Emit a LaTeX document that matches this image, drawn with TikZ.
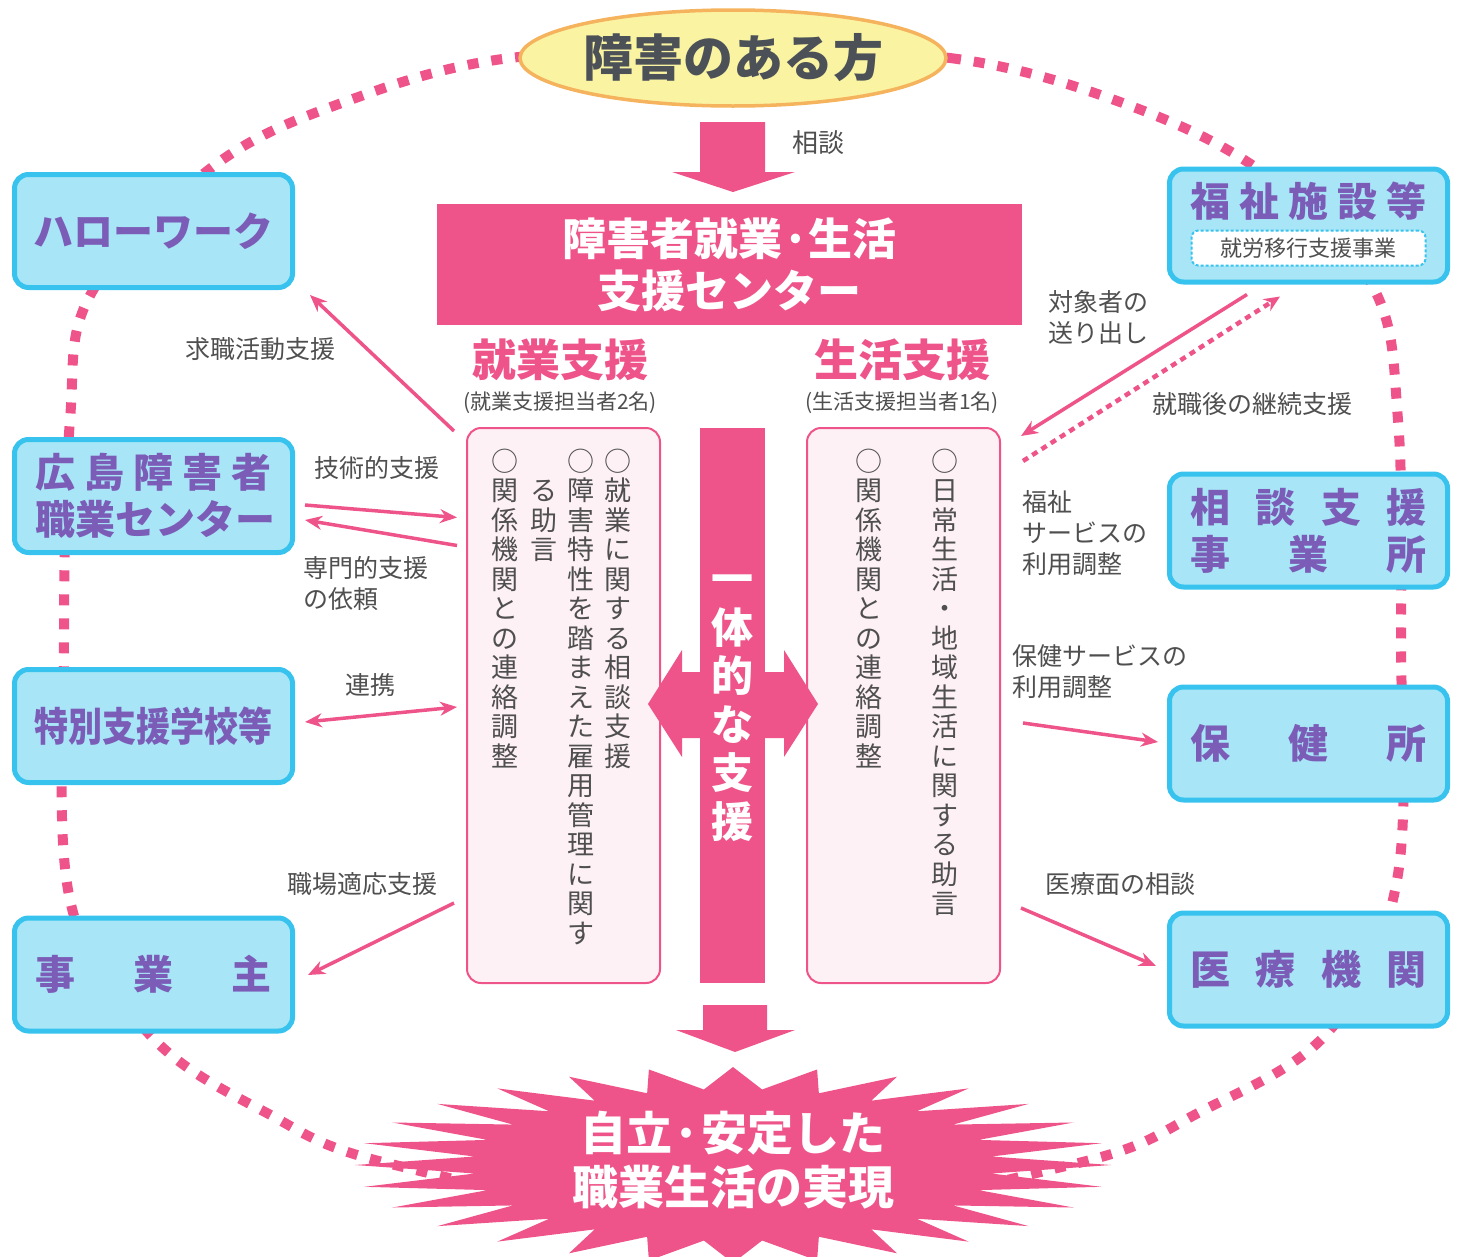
\documentclass[tikz,border=0pt]{standalone}
\usepackage{fontspec}
\usepackage{graphicx}
\setmainfont{Noto Sans CJK JP}
\usetikzlibrary{arrows.meta,calc,shapes.geometric}
\definecolor{pk}{HTML}{EE5489}
\definecolor{pkfill}{HTML}{FDF1F6}
\definecolor{cyf}{HTML}{A8E6F7}
\definecolor{cyb}{HTML}{38C3EE}
\definecolor{pu}{HTML}{7B5DB8}
\definecolor{gy}{HTML}{4F4F4F}
\definecolor{ylf}{HTML}{FAF4A2}
\definecolor{orb}{HTML}{F4B35C}
\definecolor{dkg}{HTML}{4B5157}
\newdimen\vpitch
\ExplSyntaxOn
\NewDocumentCommand\vcol{m}{\vtop{\offinterlineskip\tl_map_inline:nn{#1}{\hbox_to_wd:nn{1em}{\hss\vrule~height~0.82\vpitch~depth~0.18\vpitch~width~0pt\relax##1\hss}}}}
\ExplSyntaxOff
\newcommand\spread[2]{\hbox to #1{#2}}
\begin{document}
\begin{tikzpicture}[x=1pt,y=-1pt,
  cbox/.style={draw=cyb, line width=5pt, fill=cyf, rounded corners=14pt, minimum width=278pt, minimum height=113pt, inner sep=0pt},
  ctext/.style={text=pu, font=\bfseries\fontsize{40}{47}\selectfont, align=center, inner sep=0pt},
  lbl/.style={text=gy, font=\fontsize{25}{31}\selectfont, inner sep=0pt},
  lbll/.style={lbl, align=left},
  arr/.style={draw=pk, line width=3.5pt, -{Stealth[length=17pt,width=14pt]}},
  darr/.style={draw=pk, line width=3.5pt, {Stealth[length=17pt,width=14pt]}-{Stealth[length=17pt,width=14pt]}},
  dotarr/.style={draw=pk, line width=4.5pt, dash pattern=on 6pt off 5pt, -{Stealth[length=16pt,width=14pt]}},
  loopd/.style={draw=pk, line width=10pt, dash pattern=on 11pt off 13pt},
  panel/.style={draw=pk, line width=2pt, fill=pkfill, rounded corners=14pt, minimum width=193pt, minimum height=555pt, inner sep=0pt},
  vtxt/.style={text=gy, font=\fontsize{27}{29}\selectfont, inner sep=0pt, anchor=north},
]
\useasboundingbox (0,0) rectangle (1462,1256);
% big dashed loop
\draw[loopd] plot[smooth cycle, tension=0.6] coordinates {
 (731,52) (950,58) (1120,102) (1262,172) (1372,285) (1398,420) (1401,640) (1397,880)
 (1330,1030) (1200,1112) (1070,1165) (731,1222) (395,1165) (265,1112) (150,1035)
 (70,900) (64,640) (70,420) (92,292) (215,165) (350,100) (510,58)};

% top ellipse
\node[ellipse, draw=orb, line width=3.5pt, fill=ylf, minimum width=426pt, minimum height=96pt, inner sep=0pt,
  text=dkg, font=\bfseries\fontsize{50}{56}\selectfont] (person) at (733,58) {障害のある方};

% big down arrow
\fill[pk] (700,122) -- (765,122) -- (765,172) -- (795,172) -- (733,192) -- (672,172) -- (700,172) -- cycle;
\node[lbl, font=\fontsize{26}{31}\selectfont] (soudanl) at (818,143) {相談};

% center box
\node[fill=pk, minimum width=585pt, minimum height=121pt, inner sep=0pt, text=white,
  font=\bfseries\fontsize{44}{52}\selectfont, align=center] (center) at (729.5,264.5) {障害者就業·生活\\支援センター};

% headers
\node[text=pk, font=\bfseries\fontsize{44}{50}\selectfont, inner sep=0pt] (h1) at (560,360) {就業支援};
\node[text=gy, font=\fontsize{21}{25}\selectfont, inner sep=0pt] (h1s) at (560,403) {(就業支援担当者2名)};
\node[text=pk, font=\bfseries\fontsize{44}{50}\selectfont, inner sep=0pt] (h2) at (902,360) {生活支援};
\node[text=gy, font=\fontsize{21}{25}\selectfont, inner sep=0pt] (h2s) at (902,403) {(生活支援担当者1名)};

% panels
\node[panel] (lpanel) at (563.5,705.5) {};
\node[panel] (rpanel) at (903.5,705.5) {};

% cross arrow and bar
\fill[pk] (648,704) -- (682,650) -- (682,672) -- (784,672) -- (784,650) -- (818,704) -- (784,757) -- (784,738) -- (682,738) -- (682,757) -- cycle;
\node[fill=pk, minimum width=65pt, minimum height=555pt, inner sep=0pt] (bar) at (732.5,705.5) {};
\node[text=white, font=\bfseries\fontsize{42}{48}\selectfont, inner sep=0pt, anchor=north] (bart) at (732.5,555) {\vpitch=48.5pt\vcol{一体的な支援}};

% vertical texts
\node[vtxt] (l1) at (618,447) {\vpitch=29.5pt\vcol{○就業に関する相談支援}};
\node[vtxt] (l2) at (581,447) {\vpitch=29.5pt\vcol{○障害特性を踏まえた雇用管理に関す}};
\node[vtxt] (l3) at (544,476.5) {\vpitch=29.5pt\vcol{る助言}};
\node[vtxt] (l4) at (505,447) {\vpitch=29.5pt\vcol{○関係機関との連絡調整}};
\node[vtxt] (r1) at (945,447) {\vpitch=29.5pt\vcol{○日常生活・地域生活に関する助言}};
\node[vtxt] (r2) at (869,447) {\vpitch=29.5pt\vcol{○関係機関との連絡調整}};

% bottom arrow
\fill[pk] (703,1005) -- (767,1005) -- (767,1030) -- (795,1030) -- (735,1052) -- (676,1030) -- (703,1030) -- cycle;

% starburst
\fill[pk] (733+378,1165)
  \foreach \k in {1,...,55} {
    \pgfextra{\pgfmathsetmacro\rx{378-118*mod(\k,2)}\pgfmathsetmacro\ry{98-22*mod(\k,2)}\pgfmathsetmacro\ang{\k*45/7}}
    -- ({733+\rx*cos(\ang)},{1165+\ry*sin(\ang)})
  } -- cycle;
\node[text=white, font=\bfseries\fontsize{46}{54}\selectfont, align=center, inner sep=0pt] (goal) at (733,1160) {自立·安定した\\職業生活の実現};

% left boxes
\node[cbox] (hw) at (153.5,231) {};
\node[ctext] (hwt) at (hw.center) {ハローワーク};
\node[cbox] (hiro) at (153.5,496) {};
\node[ctext] (hirot) at (hiro.center) {\spread{236pt}{広\hfil 島\hfil 障\hfil 害\hfil 者}\\\spread{236pt}{職\hfil 業\hfil セ\hfil ン\hfil タ\hfil ー}};
\node[cbox] (toku) at (153.5,726) {};
\node[ctext] (tokut) at (toku.center) {\scalebox{0.85}[1]{特別支援学校等}};
\node[cbox] (jig) at (153.5,974.5) {};
\node[ctext] (jigt) at (jig.center) {\spread{236pt}{事\hfil 業\hfil 主}};

% right boxes
\node[cbox] (fuku) at (1308.5,225.5) {};
\node[ctext] (fukut) at (1308.5,201) {\spread{236pt}{福\hfil 祉\hfil 施\hfil 設\hfil 等}};
\node[draw=cyb, line width=2pt, dash pattern=on 3pt off 2pt, fill=white, rounded corners=7pt, minimum width=234pt, minimum height=35pt, inner sep=0pt,
  text=gy, font=\fontsize{22}{26}\selectfont] (fukus) at (1308.5,248) {就労移行支援事業};
\node[cbox] (soudan) at (1308.5,530.5) {};
\node[ctext] (soudant) at (soudan.center) {\spread{236pt}{相\hfil 談\hfil 支\hfil 援}\\\spread{236pt}{事\hfil 業\hfil 所}};
\node[cbox] (hoken) at (1308.5,743.5) {};
\node[ctext] (hokent) at (hoken.center) {\spread{236pt}{保\hfil 健\hfil 所}};
\node[cbox] (iryo) at (1308.5,969.5) {};
\node[ctext] (iryot) at (iryo.center) {\spread{236pt}{医\hfil 療\hfil 機\hfil 関}};

% left connectors
\draw[arr] ($(lpanel.north west)+(-12,4)$) -- ($(hw.south east)+(15,5)$);
\node[lbl] (l_kyu) at (260,349) {求職活動支援};
\draw[arr] ($(hiro.east)+(10,9)$) -- ($(lpanel.west)+(-9,-188)$);
\node[lbl] (l_gij) at (377,468) {技術的支援};
\draw[arr] ($(lpanel.west)+(-9,-160)$) -- ($(hiro.east)+(10,24)$);
\node[lbll, anchor=north west] (l_sen) at (303,556) {専門的支援\\の依頼};
\draw[darr] ($(toku.east)+(10,-4)$) -- ($(lpanel.west)+(-9,1.5)$);
\node[lbl] (l_ren) at (370,685) {連携};
\draw[arr] ($(lpanel.west)+(-12,197.5)$) -- ($(jig.east)+(13,0.5)$);
\node[lbl] (l_sho) at (362,884) {職場適応支援};

% right connectors
\draw[arr] ($(fuku.south west)+(80,10)$) -- ($(rpanel.north east)+(20,9)$);
\node[lbll, anchor=north west] (r_oku) at (1048,290) {対象者の\\送り出し};
\draw[dotarr] ($(rpanel.north east)+(22,34)$) -- ($(fuku.south west)+(113,12)$);
\node[lbl] (r_kei) at (1252,404) {就職後の継続支援};
\node[lbll, anchor=north west] (r_fuk) at (1022,490) {福祉\\サービスの\\利用調整};
\node[lbll, anchor=north west] (r_hok) at (1012,644) {保健サービスの\\利用調整};
\draw[arr] ($(rpanel.east)+(22,17.5)$) -- ($(hoken.west)+(-9,-1.5)$);
\node[lbl] (r_iry) at (1120,884) {医療面の相談};
\draw[arr] ($(rpanel.east)+(20,202.5)$) -- ($(iryo.west)+(-11,-3.5)$);
\end{tikzpicture}
\end{document}
